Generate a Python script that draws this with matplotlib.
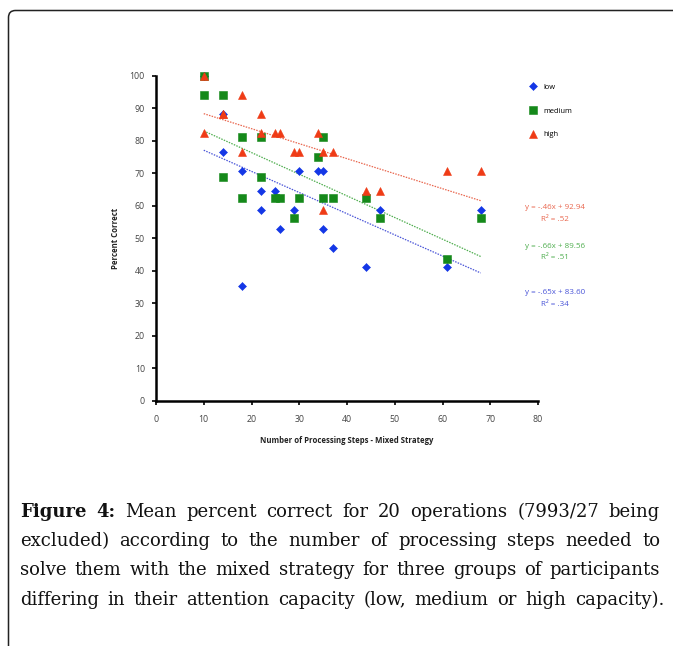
import matplotlib
matplotlib.use("Agg")
import matplotlib.pyplot as plt
import numpy as np
from matplotlib.patches import PathPatch
from matplotlib.path import Path

# data (percent correct by number of processing steps)
steps = [10, 10, 14, 14, 18, 18, 22, 22, 25, 26, 29, 30, 34, 35, 35, 37, 44, 47, 61, 68]
low = [100, 100, 88.2, 76.5, 70.6, 35.3, 64.7, 58.8, 64.7, 52.9,
       58.8, 70.6, 70.6, 70.6, 52.9, 47.1, 41.2, 58.8, 41.2, 58.8]
medium = [100, 94.1, 94.1, 68.8, 81.3, 62.5, 81.3, 68.8, 62.5, 62.5,
          56.3, 62.5, 75.0, 81.3, 62.5, 62.5, 62.5, 56.3, 43.8, 56.3]
high = [100, 82.4, 88.2, 88.2, 94.1, 76.5, 88.2, 82.4, 82.4, 82.4,
        76.5, 76.5, 82.4, 76.5, 58.8, 76.5, 64.7, 64.7, 70.6, 70.6]

groups = ["low", "medium", "high"]
equations = ["y = -.65x + 83.60", "y = -.66x + 89.56", "y = -.46x + 92.94"]
r2_labels = ["R² = .34", "R² = .51", "R² = .52"]

x_ticks = list(range(0, 81, 10))
y_ticks = list(range(0, 101, 10))

caption_lines = [
    "Figure 4: Mean percent correct for 20 operations (7993/27 being",
    "excluded) according to the number of processing steps needed to",
    "solve them with the mixed strategy for three groups of participants",
    "differing in their attention capacity (low, medium or high capacity).",
]

colors = ["#1437e6", "#15891a", "#ef3b16"]
line_colors = ["#4a55d8", "#4fae4f", "#e9674f"]
markers = ["D", "s", "^"]
msizes = [4.0, 5.4, 6.0]

W, H = 673, 646
fig = plt.figure(figsize=(W / 100, H / 100), dpi=100)

# frame: left and top edges with a rounded corner (pixel coords)
fx, fy, r = 8.5, H - 10.5, 7
verts = [(fx, 0), (fx, fy - r), (fx, fy), (fx + r, fy), (W, fy)]
codes = [Path.MOVETO, Path.LINETO, Path.CURVE3, Path.CURVE3, Path.LINETO]
fig.patches.append(PathPatch(Path(verts, codes), transform=None, fill=False,
                             lw=1.1, ec="#222222"))

ax = fig.add_axes([156 / W, (H - 401) / H, 382 / W, 325.3 / H])
tick_font = "Open Sans"

series = [low, medium, high]
x = np.array(steps, dtype=float)
for vals, name, c, m, ms in zip(series, groups, colors, markers, msizes):
    ax.plot(steps, vals, linestyle="none", marker=m, ms=ms, color=c,
            mec=c, mew=0.4, label=name, clip_on=False, zorder=3)
for vals, lc in zip(series, line_colors):
    k, b = np.polyfit(x, np.array(vals), 1)
    xs = np.array([x.min(), x.max()])
    ax.plot(xs, k * xs + b, linestyle=(0, (1.2, 1.0)), lw=0.9, color=lc, zorder=2)

ax.set_xlim(0, 80)
ax.set_ylim(0, 100)
ax.set_xticks(x_ticks)
ax.set_yticks(y_ticks)
for s in ["top", "right"]:
    ax.spines[s].set_visible(False)
for s in ["left", "bottom"]:
    ax.spines[s].set_linewidth(1.8)
ax.tick_params(direction="out", length=3, width=1.2, labelsize=6.3,
               labelcolor="#444444", pad=5)
for lab in ax.get_xticklabels() + ax.get_yticklabels():
    lab.set_fontfamily(tick_font)
ax.tick_params(axis="x", pad=7)

ax.set_xlabel("Number of Processing Steps - Mixed Strategy", fontsize=5.6,
              fontweight="bold", family=tick_font, color="#222222", labelpad=9)
ax.set_ylabel("Percent Correct", fontsize=5.6, fontweight="bold",
              family=tick_font, color="#222222", labelpad=7)

# legend
ax.legend(loc="upper left", bbox_to_anchor=(0.97, 0.985), frameon=False,
          prop={"family": tick_font, "size": 5.4}, labelspacing=2.2,
          handletextpad=0.8, handlelength=1.0, borderaxespad=0)

# trendline equations
eq_y = [292, 246, 208]
for eq, r2, lc, yy in zip(equations, r2_labels, line_colors, eq_y):
    fig.text(555 / W, 1 - yy / H, eq, fontsize=5.8, family=tick_font,
             color=lc, ha="center", va="center")
    fig.text(555 / W, 1 - (yy + 12) / H, r2, fontsize=5.8, family=tick_font,
             color=lc, ha="center", va="center")

# caption, justified line by line
renderer = fig.canvas.get_renderer()
cap_font = "DejaVu Serif"
cap_size = 13.0
left_px = 20
right_px = [660, 660, 660, 664]
line_y = [512, 541, 570, 600]


def word_width(word, weight):
    t = fig.text(0, 0, word, fontsize=cap_size, family=cap_font, fontweight=weight)
    w = t.get_window_extent(renderer).width
    t.remove()
    return w


for i, (line, yy, rp) in enumerate(zip(caption_lines, line_y, right_px)):
    words = line.split(" ")
    weights = ["bold" if (i == 0 and j < 2) else "normal" for j in range(len(words))]
    widths = [word_width(w, wt) for w, wt in zip(words, weights)]
    gap = (rp - left_px - sum(widths)) / (len(words) - 1)
    xp = left_px
    for w, wt, ww in zip(words, weights, widths):
        fig.text(xp / W, 1 - yy / H, w, fontsize=cap_size, family=cap_font,
                 fontweight=wt, ha="left", va="center", color="#111111")
        xp += ww + gap

fig.savefig("out.png", dpi=100)
